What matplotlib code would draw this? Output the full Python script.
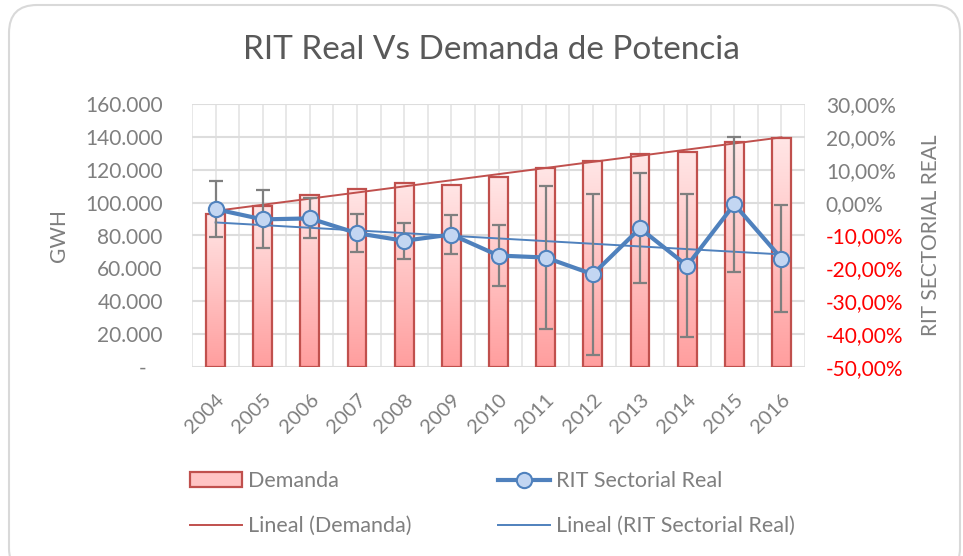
import numpy as np
import matplotlib
matplotlib.use("Agg")
import matplotlib.pyplot as plt
from matplotlib.patches import FancyBboxPatch, Patch
from matplotlib.lines import Line2D
from matplotlib.colors import LinearSegmentedColormap
from matplotlib.transforms import IdentityTransform
from matplotlib.ticker import FuncFormatter, MultipleLocator

plt.rcParams['font.family'] = ['Lato', 'DejaVu Sans']

years = ['2004', '2005', '2006', '2007', '2008', '2009', '2010',
         '2011', '2012', '2013', '2014', '2015', '2016']
demanda = [93000, 98000, 104500, 108300, 112100, 110900, 115400,
           121100, 125500, 129400, 131000, 136700, 139500]
rit = [-2.0, -5.1, -4.8, -9.3, -11.6, -9.7, -16.1,
       -16.7, -21.8, -7.8, -19.2, -0.5, -17.0]
rit_err = [8.6, 8.8, 6.1, 5.8, 5.5, 5.9, 9.3,
           21.8, 24.4, 16.8, 21.8, 20.5, 16.3]
left_ticks = [0, 20000, 40000, 60000, 80000, 100000, 120000, 140000, 160000]
right_ticks = [-50, -40, -30, -20, -10, 0, 10, 20, 30]

GRAY = '#7F7F7F'
RED_EDGE = '#C0504D'
BLUE = '#4F81BD'

W, H = 963, 556
fig = plt.figure(figsize=(W / 100, H / 100), dpi=100)

# outer rounded frame
frame = FancyBboxPatch((9, -20), 951, 571, boxstyle="round,pad=0,rounding_size=28",
                       transform=IdentityTransform(), facecolor='white',
                       edgecolor='#D9D9D9', linewidth=1.5, zorder=-5)
fig.patches.append(frame)

L, R, T, B = 192, 805, 104, 367
ax = fig.add_axes([L / W, 1 - B / H, (R - L) / W, (B - T) / H])
ax.set_facecolor('none')
x = np.arange(len(years))

# bars with vertical gradient
bw = 0.4
bars = ax.bar(x, demanda, width=bw, color='#FFC0C0', edgecolor='none', zorder=2)
cmap = LinearSegmentedColormap.from_list('pk', ['#FF9E9E', '#FFE6E6'])
grad = np.linspace(0, 1, 256).reshape(-1, 1)
for b in bars:
    im = ax.imshow(grad, extent=[b.get_x(), b.get_x() + b.get_width(), 0, b.get_height()],
                   aspect='auto', cmap=cmap, origin='lower', zorder=2.1)
    im.set_clip_path(b)
ax.bar(x, demanda, width=bw, facecolor='none', edgecolor=RED_EDGE, linewidth=1.6, zorder=2.2)

# trend line demanda
p = np.polyfit(x, demanda, 1)
ax.plot(x, np.polyval(p, x), color=RED_EDGE, linewidth=1.4, zorder=3)

ax.set_xlim(-0.5, len(years) - 0.5)
ax.set_ylim(0, 160000)
ax.set_yticks(left_ticks)
ax.yaxis.set_major_formatter(FuncFormatter(
    lambda v, pos: '-   ' if v == 0 else f"{int(v):,}".replace(',', '.')))
ax.set_xticks(x)
ax.set_xticklabels(years, rotation=45, ha='right', rotation_mode='anchor')
ax.xaxis.set_minor_locator(MultipleLocator(0.5))
ax.grid(True, which='both', axis='x', color='#E6E6E6', linewidth=1.3, zorder=0)
ax.grid(True, which='major', axis='y', color='#DDDDDD', linewidth=1.5, zorder=0)
ax.set_axisbelow(True)
for s in ax.spines.values():
    s.set_visible(False)
ax.tick_params(which='both', length=0)
ax.tick_params(axis='y', labelsize=15, colors=GRAY, pad=21)
ax.tick_params(axis='x', labelsize=14.5, colors=GRAY, pad=17)
ax.set_ylabel('GWH', color=GRAY, fontsize=15, labelpad=12)

ax2 = ax.twinx()
ax2.set_facecolor('none')
ax2.set_ylim(-50, 30)
pr = np.polyfit(x, rit, 1)
ax2.plot(x, np.polyval(pr, x), color=BLUE, linewidth=1.4, zorder=3)
ax2.errorbar(x, rit, yerr=rit_err, fmt='none', ecolor=GRAY, elinewidth=1.6,
             capsize=5, capthick=1.6, zorder=4)
ax2.plot(x, rit, color=BLUE, linewidth=3, marker='o', markersize=11,
         markerfacecolor='#C3D6F2', markeredgecolor=BLUE, markeredgewidth=1.5, zorder=5)
ax2.set_yticks(right_ticks)
ax2.set_yticklabels([f"{v:.2f}%".replace('.', ',') for v in right_ticks])
for t, v in zip(ax2.get_yticklabels(), right_ticks):
    t.set_color('#FF0000' if v < 0 else GRAY)
ax2.tick_params(length=0, labelsize=15, pad=15)
for s in ax2.spines.values():
    s.set_visible(False)
ax2.set_ylabel('RIT SECTORIAL REAL', color=GRAY, fontsize=15, labelpad=13)

fig.text(491 / W, 1 - 50 / H, 'RIT Real Vs Demanda de Potencia', ha='center', va='center',
         fontsize=24, color='#595959')

handles = [Patch(facecolor='#FFC4C4', edgecolor=RED_EDGE, linewidth=1.6),
           Line2D([], [], color=RED_EDGE, linewidth=1.4),
           Line2D([], [], color=BLUE, linewidth=3, marker='o', markersize=11,
                  markerfacecolor='#C3D6F2', markeredgecolor=BLUE, markeredgewidth=1.5),
           Line2D([], [], color=BLUE, linewidth=1.4)]
labels = ['Demanda', 'Lineal (Demanda)', 'RIT Sectorial Real', 'Lineal (RIT Sectorial Real)']
leg = fig.legend(handles, labels, ncol=2, loc='upper left',
                 bbox_to_anchor=(171 / W, 1 - 452 / H), frameon=False, fontsize=15.5,
                 handlelength=2.4, handletextpad=0.3, columnspacing=4.0,
                 labelspacing=1.15)
for t in leg.get_texts():
    t.set_color(GRAY)

fig.savefig('out.png', dpi=100)
